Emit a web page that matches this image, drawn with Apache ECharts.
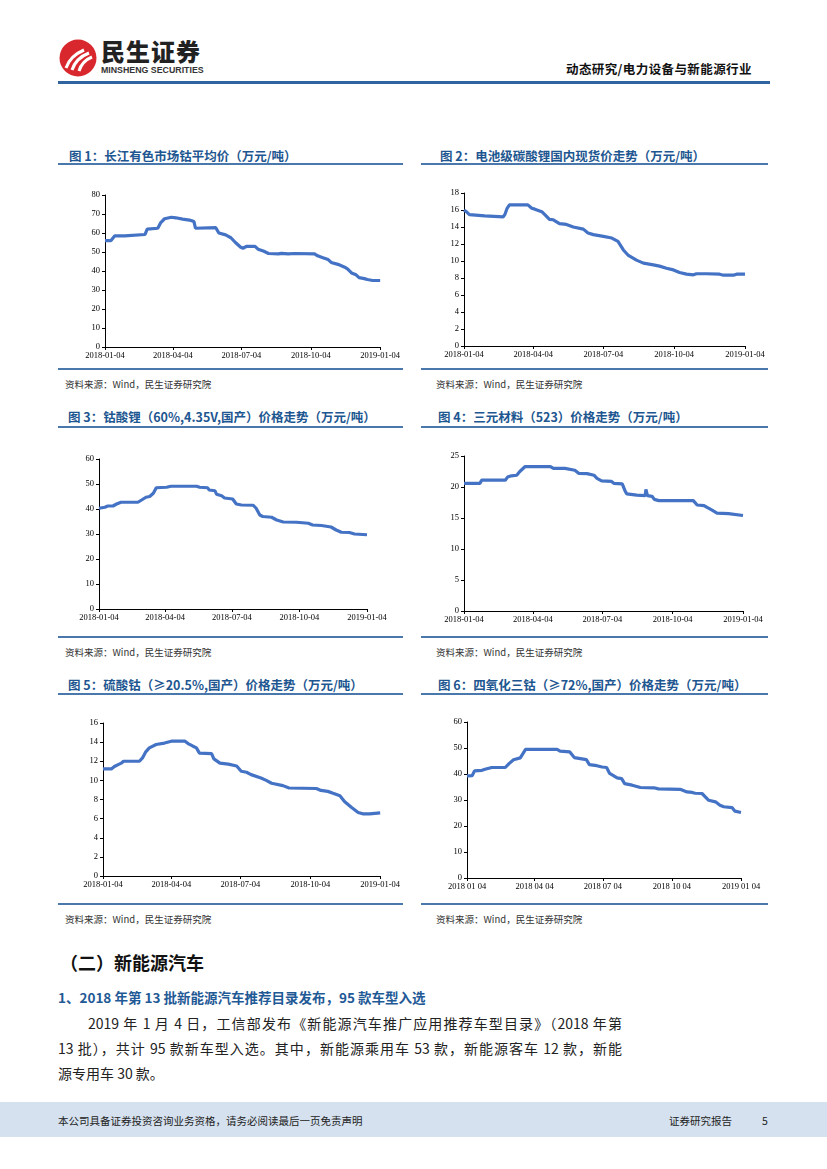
<!DOCTYPE html>
<html><head><meta charset="utf-8">
<script src="https://cdn.jsdelivr.net/npm/echarts@6/dist/echarts.min.js"></script>
<style>
body{margin:0;width:827px;height:1169px;position:relative;background:#fff;font-family:"Noto Sans CJK SC",sans-serif;overflow:hidden}
.a{position:absolute;white-space:nowrap}
.title{font-size:12.5px;font-weight:bold;color:#1d5690;line-height:16px}
.hl{position:absolute;height:2px;background:#4a78ad}
.src{font-size:9.5px;color:#333;line-height:14px}
.ch{position:absolute}
.para{font-size:14px;color:#222;line-height:20px}
</style></head><body>

<!-- header -->
<svg class="a" style="left:58px;top:38px" width="40" height="40" viewBox="0 0 40 40">
  <circle cx="20" cy="20" r="18.5" fill="#d8282d"/>
  <path d="M8 30 Q12 18 26 12" stroke="#fff" stroke-width="3" fill="none"/>
  <path d="M14 32 Q18 20 31 15" stroke="#fff" stroke-width="3" fill="none"/>
  <path d="M21 33 Q24 23 34 19" stroke="#fff" stroke-width="3" fill="none"/>
</svg>
<div class="a" style="left:101px;top:37px;font-size:24px;font-weight:900;color:#222;line-height:28px;letter-spacing:1px">民生证券</div>
<div class="a" style="left:101px;top:65px;font-size:8.8px;font-weight:bold;color:#333;line-height:10px;font-family:'Liberation Sans',sans-serif">MINSHENG SECURITIES</div>
<div class="a" style="left:566px;top:61px;font-size:12.5px;font-weight:bold;color:#111;line-height:16px;letter-spacing:0.4px">动态研究/电力设备与新能源行业</div>
<div class="a" style="left:58px;top:81px;width:712px;height:3px;background:#2f64a0"></div>

<!-- titles -->
<div class="a title" style="left:69px;top:148px">图 1：长江有色市场钴平均价（万元/吨）</div>
<div class="a title" style="left:440px;top:148px">图 2：电池级碳酸锂国内现货价走势（万元/吨）</div>
<div class="a title" style="left:68px;top:409px">图 3：钴酸锂（60%,4.35V,国产）价格走势（万元/吨）</div>
<div class="a title" style="left:438px;top:409px">图 4：三元材料（523）价格走势（万元/吨）</div>
<div class="a title" style="left:68px;top:677px">图 5：硫酸钴（≥20.5%,国产）价格走势（万元/吨）</div>
<div class="a title" style="left:438px;top:677px">图 6：四氧化三钴（≥72%,国产）价格走势（万元/吨）</div>

<div class="hl" style="left:58px;top:163px;width:345px"></div>
<div class="hl" style="left:421px;top:163px;width:347px"></div>
<div class="hl" style="left:58px;top:368px;width:345px"></div>
<div class="hl" style="left:421px;top:368px;width:347px"></div>
<div class="hl" style="left:58px;top:426px;width:345px"></div>
<div class="hl" style="left:421px;top:426px;width:347px"></div>
<div class="hl" style="left:58px;top:636px;width:345px"></div>
<div class="hl" style="left:421px;top:636px;width:347px"></div>
<div class="hl" style="left:58px;top:693px;width:345px"></div>
<div class="hl" style="left:421px;top:693px;width:347px"></div>
<div class="hl" style="left:58px;top:903px;width:345px"></div>
<div class="hl" style="left:421px;top:903px;width:347px"></div>

<div class="a src" style="left:65px;top:377px">资料来源：Wind，民生证券研究院</div>
<div class="a src" style="left:436px;top:377px">资料来源：Wind，民生证券研究院</div>
<div class="a src" style="left:65px;top:645px">资料来源：Wind，民生证券研究院</div>
<div class="a src" style="left:436px;top:645px">资料来源：Wind，民生证券研究院</div>
<div class="a src" style="left:65px;top:912px">资料来源：Wind，民生证券研究院</div>
<div class="a src" style="left:436px;top:912px">资料来源：Wind，民生证券研究院</div>

<div class="ch" id="c1" style="left:58px;top:170px;width:345px;height:198px"></div>
<div class="ch" id="c2" style="left:421px;top:170px;width:347px;height:198px"></div>
<div class="ch" id="c3" style="left:58px;top:430px;width:345px;height:205px"></div>
<div class="ch" id="c4" style="left:421px;top:430px;width:347px;height:205px"></div>
<div class="ch" id="c5" style="left:58px;top:700px;width:345px;height:202px"></div>
<div class="ch" id="c6" style="left:421px;top:700px;width:347px;height:202px"></div>

<!-- text section -->
<div class="a" style="left:60px;top:949px;font-size:18px;font-weight:bold;color:#111;line-height:26px">（二）新能源汽车</div>
<div class="a" style="left:58px;top:988px;font-size:13.5px;font-weight:bold;color:#1f5a96;line-height:18px">1、2018 年第 13 批新能源汽车推荐目录发布，95 款车型入选</div>
<div class="a para" style="left:88px;top:1013px;width:534px;text-align:justify;text-align-last:justify">2019 年 1 月 4 日，工信部发布《新能源汽车推广应用推荐车型目录》（2018 年第</div>
<div class="a para" style="left:58px;top:1038px;width:564px;text-align:justify;text-align-last:justify">13 批），共计 95 款新车型入选。其中，新能源乘用车 53 款，新能源客车 12 款，新能</div>
<div class="a para" style="left:58px;top:1063px">源专用车 30 款。</div>

<!-- footer -->
<div class="a" style="left:0;top:1102px;width:827px;height:35px;background:#d5e1ee"></div>
<div class="a" style="left:58px;top:1113px;font-size:10.5px;color:#222;line-height:16px">本公司具备证券投资咨询业务资格，请务必阅读最后一页免责声明</div>
<div class="a" style="left:669px;top:1113px;font-size:10.5px;color:#222;line-height:16px">证券研究报告</div>
<div class="a" style="left:762px;top:1113px;font-size:10.5px;color:#222;line-height:16px">5</div>

<script>
// x positions are days since 2018-01-04
const xTickDay = [0, 90, 181, 273, 365];
const xTickText = ['2018-01-04', '2018-04-04', '2018-07-04', '2018-10-04', '2019-01-04'];
const xTickText6 = ['2018 01 04', '2018 04 04', '2018 07 04', '2018 10 04', '2019 01 04'];

// 图1 长江有色市场钴平均价
const c1Day = [0,8,13,26,28,53,56,70,74,79,88,94,103,112,118,120,147,151,160,167,173,180,183,188,199,203,210,217,230,234,243,252,278,282,289,296,300,309,318,322,327,333,337,344,348,355,365];
const c1Val = [56,56,58.5,58.5,59.2,59.2,62,62.5,65.5,67.5,68.3,68,67.3,66.8,66,62.5,62.8,60,59,57.5,55,52.5,52,53,53,51.5,50.5,49.2,49,49.3,49,49.2,49,48,47,46,44.5,43.5,42,41,39,38,36.5,36,35.5,35,35];
// 图2 电池级碳酸锂
const c2Day = [0,3,7,27,29,51,53,56,59,83,88,92,101,105,111,116,124,133,142,155,161,168,181,192,200,207,213,224,233,246,254,263,272,280,289,298,302,315,332,337,350,354,365];
const c2Val = [16.0,15.8,15.45,15.3,15.2,15.2,15.45,16.2,16.6,16.6,16.2,16.1,15.8,15.45,14.9,14.85,14.4,14.3,14.0,13.75,13.3,13.1,12.9,12.7,12.3,11.3,10.7,10.1,9.75,9.55,9.4,9.15,8.95,8.65,8.45,8.37,8.5,8.5,8.45,8.33,8.33,8.45,8.45];
// 图3 钴酸锂
const c3Day = [0,8,12,19,24,30,53,58,64,69,74,78,92,98,133,137,148,150,158,160,167,171,182,187,194,210,214,219,223,235,242,251,269,285,291,303,305,316,323,330,341,348,365];
const c3Val = [40.3,40.7,41.2,41.2,42,42.7,42.7,43.6,44.7,45,46.3,48.5,48.7,49.1,49.1,48.7,48.5,47.6,47.3,45.9,45.3,44.4,44,42,41.6,41.5,40.3,37.6,37,36.7,35.6,34.8,34.7,34.3,33.6,33.4,33,32.8,31.6,30.7,30.6,30,29.7];
// 图4 三元材料（523）
const c4Day = [0,21,23,54,57,62,69,73,80,113,117,132,134,145,150,161,163,170,174,180,193,196,207,211,213,226,237,238,240,246,249,255,300,305,314,318,324,331,346,348,365];
const c4Val = [20.6,20.6,21.1,21.1,21.6,21.8,21.9,22.5,23.3,23.3,23.0,23.0,22.85,22.7,22.2,22.15,21.95,21.9,21.4,21.0,20.9,20.6,20.5,19.3,18.9,18.7,18.6,19.6,18.6,18.5,18.0,17.8,17.8,17.1,17.0,16.7,16.3,15.8,15.7,15.5,15.4];
// 图5 硫酸钴
const c5Day = [0,11,15,20,24,27,48,52,56,61,70,81,90,108,112,118,123,127,143,146,154,165,176,182,189,195,208,215,222,237,245,281,287,296,303,312,318,327,336,342,351,353,365];
const c5Val = [11.2,11.2,11.45,11.65,11.8,12.0,12.0,12.35,12.95,13.4,13.75,13.9,14.1,14.1,13.85,13.6,13.4,12.85,12.8,12.25,11.8,11.7,11.5,10.95,10.85,10.6,10.25,10.0,9.7,9.45,9.2,9.15,8.95,8.85,8.65,8.4,7.8,7.2,6.65,6.5,6.5,6.6,6.6];
// 图6 四氧化三钴
const c6Day = [0,7,10,20,24,33,51,56,62,71,78,120,124,137,143,159,163,173,180,186,190,200,206,210,220,231,249,255,284,293,300,304,313,322,331,337,342,353,357,365];
const c6Val = [39.3,39.4,41.2,41.4,41.8,42.5,42.5,44,45.5,46.2,49.5,49.5,48.8,48.5,46.3,45.5,43.6,43.2,42.7,42.5,40.2,38.5,38.2,36.3,35.7,34.8,34.7,34.3,34.1,33.1,32.9,32.6,32.5,29.9,29.3,28,27.4,27.1,25.7,25.2];

const yMax = [80, 18, 60, 25, 16, 60];
const yStep = [10, 2, 10, 5, 2, 10];

function makeChart(id, days, vals, ymax, ystep, grid, labels) {
  const c = echarts.init(document.getElementById(id));
  const lab = {fontFamily: 'Liberation Serif', fontSize: 8.5, color: '#000'};
  c.setOption({
    animation: false,
    grid: grid,
    xAxis: {
      type: 'value', min: 0, max: 365, splitLine: {show: false},
      axisLine: {lineStyle: {color: '#000', width: 1}},
      axisTick: {show: true, customValues: xTickDay, length: 3, lineStyle: {color: '#000'}},
      axisLabel: Object.assign({customValues: xTickDay, margin: 4, showMinLabel: true, showMaxLabel: true,
        formatter: v => labels[xTickDay.indexOf(v)]}, lab)
    },
    yAxis: {
      type: 'value', min: 0, max: ymax, interval: ystep, splitLine: {show: false},
      axisLine: {show: true, lineStyle: {color: '#000', width: 1}},
      axisTick: {show: true, length: 3, lineStyle: {color: '#000'}},
      axisLabel: Object.assign({margin: 5}, lab)
    },
    series: [{
      type: 'line', data: days.map((d, i) => [d, vals[i]]), showSymbol: false,
      lineStyle: {color: '#4472c4', width: 3.2}, itemStyle: {color: '#4472c4'}
    }]
  });
}
makeChart('c1', c1Day, c1Val, yMax[0], yStep[0], {left: 47, width: 278, top: 25, height: 152}, xTickText);
makeChart('c2', c2Day, c2Val, yMax[1], yStep[1], {left: 43, width: 281, top: 23, height: 153}, xTickText);
makeChart('c3', c3Day, c3Val, yMax[2], yStep[2], {left: 41, width: 268, top: 29, height: 150}, xTickText);
makeChart('c4', c4Day, c4Val, yMax[3], yStep[3], {left: 43, width: 279, top: 26, height: 155}, xTickText);
makeChart('c5', c5Day, c5Val, yMax[4], yStep[4], {left: 45, width: 278, top: 23, height: 153}, xTickText);
makeChart('c6', c6Day, c6Val, yMax[5], yStep[5], {left: 46, width: 274, top: 22, height: 156}, xTickText6);
</script>
</body></html>
